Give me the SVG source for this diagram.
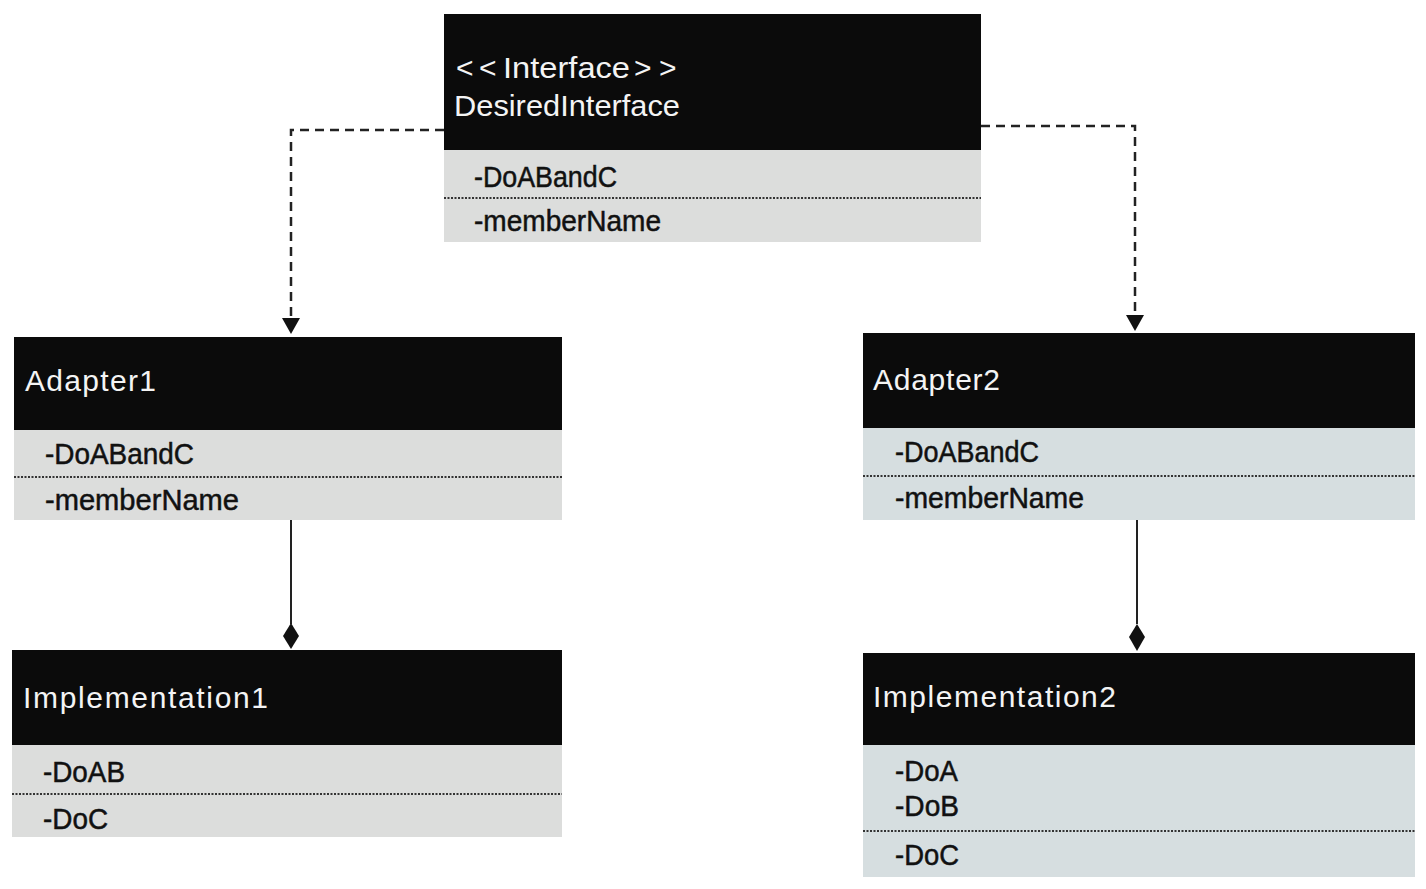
<svg xmlns="http://www.w3.org/2000/svg" width="1426" height="889" viewBox="0 0 1426 889">
<style>
.hdr{fill:#0b0b0b}
.body{fill:#dcdddc}
.body2{fill:#d6dee0}
.sep{stroke:#333;stroke-width:2;stroke-dasharray:2 1.5}
.title{font-family:"Liberation Sans",Arial,sans-serif;font-size:30px;fill:#f4f4f4}
.item{font-family:"Liberation Sans",Arial,sans-serif;font-size:29px;fill:#111;stroke:#111;stroke-width:0.5}
.dash{fill:none;stroke:#222;stroke-width:2.5;stroke-dasharray:9 6}
.solid{fill:none;stroke:#222;stroke-width:2}
.head{fill:#111}
</style>
<rect width="1426" height="889" fill="#ffffff"/>
<g id="connectors">
<path class="dash" d="M444,130 H291 V320"/>
<path class="head" d="M282,318 L300,318 L291,334 Z"/>
<path class="dash" d="M981,126 H1135 V316"/>
<path class="head" d="M1126,315 L1144,315 L1135,331 Z"/>
<path class="solid" d="M291,520 V624"/>
<path class="head" d="M291,623 L299,636 L291,649 L283,636 Z"/>
<path class="solid" d="M1137,520 V624"/>
<path class="head" d="M1137,624 L1145,637 L1137,651 L1129,637 Z"/>
</g>
<g id="desired">
<rect class="hdr" x="444" y="14" width="537" height="136"/>
<rect class="body" x="444" y="150" width="537" height="92"/>
<line class="sep" x1="444" y1="198" x2="981" y2="198"/>
<text class="title" y="78"><tspan x="456">&lt;</tspan><tspan x="479">&lt;</tspan><tspan x="503" textLength="127" lengthAdjust="spacingAndGlyphs">Interface</tspan><tspan x="634">&gt;</tspan><tspan x="659">&gt;</tspan></text>
<text class="title" x="454" y="116" textLength="226" lengthAdjust="spacingAndGlyphs">DesiredInterface</text>
<text class="item" x="474" y="187" textLength="143" lengthAdjust="spacingAndGlyphs">-DoABandC</text>
<text class="item" x="474" y="231" textLength="187" lengthAdjust="spacingAndGlyphs">-memberName</text>
</g>
<g id="adapter1">
<rect class="hdr" x="14" y="337" width="548" height="93"/>
<rect class="body" x="14" y="430" width="548" height="90"/>
<line class="sep" x1="14" y1="477" x2="562" y2="477"/>
<text class="title" x="25" y="391" textLength="131" lengthAdjust="spacing">Adapter1</text>
<text class="item" x="45" y="464" textLength="149" lengthAdjust="spacingAndGlyphs">-DoABandC</text>
<text class="item" x="45" y="510" textLength="194" lengthAdjust="spacingAndGlyphs">-memberName</text>
</g>
<g id="adapter2">
<rect class="hdr" x="863" y="333" width="552" height="95"/>
<rect class="body2" x="863" y="428" width="552" height="92"/>
<line class="sep" x1="863" y1="476" x2="1415" y2="476"/>
<text class="title" x="873" y="390" textLength="127" lengthAdjust="spacing">Adapter2</text>
<text class="item" x="895" y="462" textLength="144" lengthAdjust="spacingAndGlyphs">-DoABandC</text>
<text class="item" x="895" y="508" textLength="189" lengthAdjust="spacingAndGlyphs">-memberName</text>
</g>
<g id="impl1">
<rect class="hdr" x="12" y="650" width="550" height="95"/>
<rect class="body" x="12" y="745" width="550" height="92"/>
<line class="sep" x1="12" y1="794" x2="562" y2="794"/>
<text class="title" x="23" y="708" textLength="245" lengthAdjust="spacing">Implementation1</text>
<text class="item" x="43" y="782" textLength="82" lengthAdjust="spacingAndGlyphs">-DoAB</text>
<text class="item" x="43" y="829" textLength="65" lengthAdjust="spacingAndGlyphs">-DoC</text>
</g>
<g id="impl2">
<rect class="hdr" x="863" y="653" width="552" height="92"/>
<rect class="body2" x="863" y="745" width="552" height="132"/>
<line class="sep" x1="863" y1="831" x2="1415" y2="831"/>
<text class="title" x="873" y="707" textLength="243" lengthAdjust="spacing">Implementation2</text>
<text class="item" x="895" y="781" textLength="63" lengthAdjust="spacingAndGlyphs">-DoA</text>
<text class="item" x="895" y="816" textLength="64" lengthAdjust="spacingAndGlyphs">-DoB</text>
<text class="item" x="895" y="865" textLength="64" lengthAdjust="spacingAndGlyphs">-DoC</text>
</g>
</svg>
